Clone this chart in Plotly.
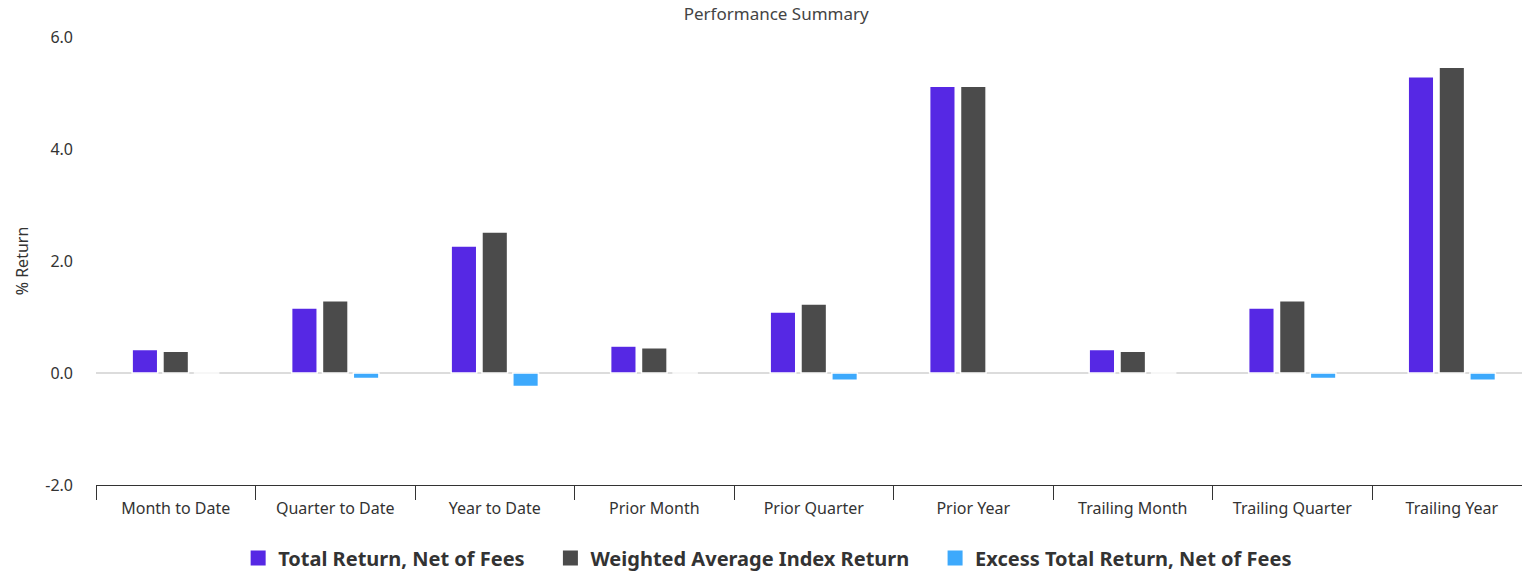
import plotly.graph_objects as go

# Periods on the category axis
periods = [
    "Month to Date", "Quarter to Date", "Year to Date",
    "Prior Month", "Prior Quarter", "Prior Year",
    "Trailing Month", "Trailing Quarter", "Trailing Year",
]

# Returns in percent
total_return_net = [0.42, 1.16, 2.27, 0.48, 1.09, 5.12, 0.42, 1.16, 5.29]
weighted_index_return = [0.39, 1.29, 2.52, 0.45, 1.23, 5.12, 0.39, 1.29, 5.46]
excess_return_net = [0.0, -0.10, -0.24, 0.0, -0.13, None, 0.0, -0.10, -0.13]

y_ticks = [-2.0, 0.0, 2.0, 4.0, 6.0]

FONT = "Noto Sans"
PAD = "\u00a0" * 4  # extra room after each legend label

series = [
    ("Total Return, Net of Fees", total_return_net, "#5628e4"),
    ("Weighted Average Index Return", weighted_index_return, "#4b4b4b"),
    ("Excess Total Return, Net of Fees", excess_return_net, "#3da9fc"),
]

fig = go.Figure()
for name, values, color in series:
    fig.add_trace(go.Bar(
        x=periods,
        y=values,
        name=name,
        showlegend=False,
        marker=dict(color=color, line=dict(color="#ffffff", width=1.5)),
    ))

# Legend entries with larger square swatches
for i, (name, _, color) in enumerate(series):
    fig.add_trace(go.Scatter(
        x=[None],
        y=[None],
        mode="markers",
        name=name + (PAD if i < len(series) - 1 else ""),
        marker=dict(symbol="square", size=15, color=color),
        hoverinfo="skip",
    ))

fig.update_layout(
    width=1522,
    height=572,
    margin=dict(l=96, r=0, t=37, b=87, autoexpand=False),
    paper_bgcolor="#ffffff",
    plot_bgcolor="#ffffff",
    barmode="group",
    bargap=0.42,
    bargroupgap=0.17,
    font=dict(family=FONT, color="#333333", size=16),
    title=dict(
        text="Performance Summary",
        x=0.51,
        xanchor="center",
        y=0.975,
        yanchor="middle",
        font=dict(family=FONT, size=17, color="#444444"),
    ),
    legend=dict(
        orientation="h",
        x=0.471,
        xanchor="center",
        y=-0.163,
        yanchor="middle",
        font=dict(family=FONT, size=20, color="#333333", weight="bold"),
        itemsizing="trace",
        traceorder="normal",
    ),
    showlegend=True,
)

fig.update_xaxes(
    type="category",
    range=[-0.5, 8.44],
    tickson="boundaries",
    ticks="outside",
    ticklen=14,
    tickwidth=1.2,
    tickcolor="#333333",
    showline=True,
    linecolor="#333333",
    linewidth=1.2,
    showgrid=False,
    zeroline=False,
    ticklabelstandoff=9,
    tickfont=dict(family=FONT, size=16, color="#333333"),
    fixedrange=True,
)

fig.update_yaxes(
    range=[-2, 6],
    tickvals=y_ticks,
    ticktext=[f"{v:.1f}" for v in y_ticks],
    showgrid=False,
    zeroline=True,
    zerolinecolor="#dcdcdc",
    zerolinewidth=1.5,
    showline=False,
    ticks="",
    ticklabelstandoff=22,
    tickfont=dict(family=FONT, size=16, color="#333333"),
    title=dict(text="% Return", font=dict(family=FONT, size=16, color="#333333"), standoff=12),
    fixedrange=True,
)

fig.write_html("out.html")
